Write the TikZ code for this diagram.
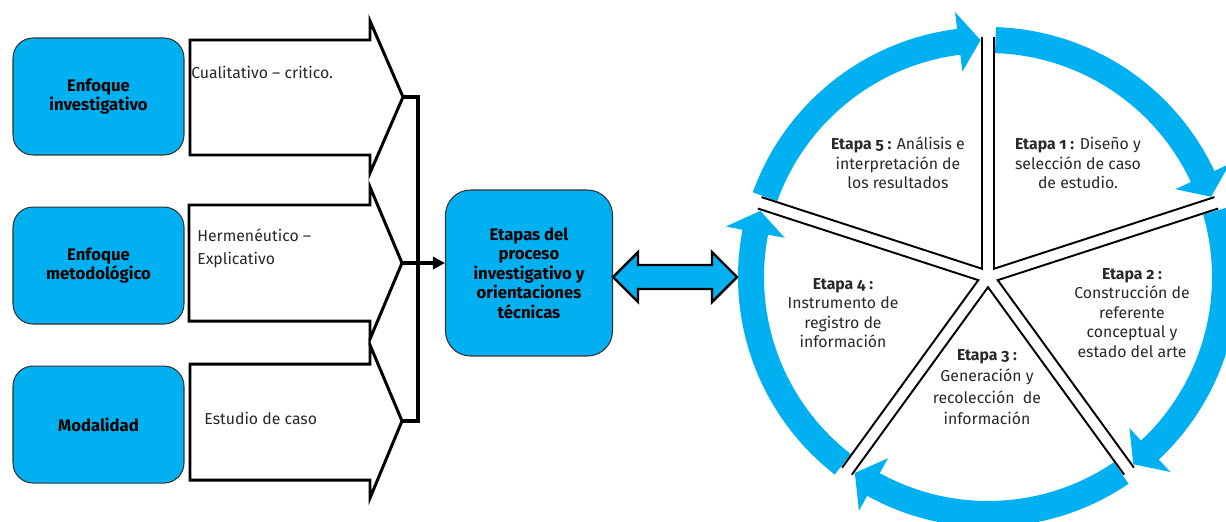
\documentclass[tikz,border=0pt]{standalone}
\usepackage{fontspec}
\setmainfont{Fira Sans}[Numbers=OldStyle]
\usetikzlibrary{positioning,calc,arrows.meta}
\definecolor{cyanblue}{RGB}{0,176,240}
\definecolor{textgray}{RGB}{40,40,40}

\begin{document}
\begin{tikzpicture}[x=0.02cm, y=0.02cm,
   every node/.style={font=\fontsize{9}{11.1}\selectfont, text=textgray},
   labelbox/.style={draw=black!80, line width=0.6pt, fill=cyanblue, rounded corners=0.4cm,
                    minimum width=3.42cm, minimum height=2.34cm, align=center,
                    font=\fontsize{9.5}{11.1}\selectfont\bfseries, text=black},
   bigarrow/.style={draw=black, line width=1.7pt, fill=white},
   armtext/.style={anchor=west, inner sep=0pt, align=left},
   busline/.style={draw=black, line width=2.1pt},
   dblarrow/.style={draw=black, line width=1.4pt, fill=cyanblue},
   ring/.style={fill=cyanblue},
   spoke/.style={draw=black, line width=1.1pt},
   stage/.style={align=center}]

\useasboundingbox (0,0) rectangle (1226,-521);
\clip (0,0) rectangle (1226,-521);

% left column
\node[labelbox] (enfinv) at (98.5,-96.5) {Enfoque\\investigativo};
\node[labelbox, below=1.02cm of enfinv] (enfmet) {Enfoque\\metodológico};
\node[labelbox, below=0.82cm of enfmet] (modal) {Modalidad};

% block arrows
\draw[bigarrow] (190,-40) -- (370,-40) -- (370,-21) -- (403,-97) -- (370,-173) -- (370,-155) -- (190,-155) -- cycle;
\draw[bigarrow] (189,-205) -- (370,-205) -- (370,-187) -- (402,-263) -- (370,-339) -- (370,-321) -- (189,-321) -- cycle;
\draw[bigarrow] (190,-364) -- (370,-364) -- (370,-345) -- (402,-421) -- (370,-498) -- (370,-480) -- (190,-480) -- cycle;
\coordinate (tip1) at (403,-97);
\coordinate (tip2) at (402,-263);
\coordinate (tip3) at (402,-421);

\node[armtext] (cualit) at (191,-72) {Cualitativo -- critico.};
\node[armtext] (herme) at (197,-248) {Hermenéutico --\\[2pt]Explicativo};
\node[armtext] (estudio) at (204,-418) {Estudio de caso};

% centre
\node[labelbox, minimum width=3.34cm, minimum height=3.32cm, rounded corners=0.5cm] (etapas) at (529,-273)
     {Etapas del\\proceso\\investigativo y\\orientaciones\\técnicas};

\coordinate (bustop) at (418,-97);
\coordinate (busbot) at (418,-421);
\draw[busline] (tip1) -- (bustop) -- (busbot) -- (tip3);
\draw[busline, -{Triangle[length=0.24cm, width=0.24cm]}] (tip2) -- (tip2 -| etapas.west);

\draw[dblarrow] (613,-277) -- (638,-252) -- (638,-265) -- (712,-265) -- (712,-252) -- (737,-277)
     -- (712,-302) -- (712,-289) -- (638,-289) -- (638,-302) -- cycle;

% cycle
\begin{scope}[shift={(988,-277)}]
\fill[ring] (88.2:250) arc[start angle=88.2, end angle=25.1, radius=250] -- (25.1:267) -- (19.8:237)
     -- (25.1:207) -- (25.1:224) arc[start angle=25.1, end angle=88.2, radius=224] -- cycle;
\fill[ring] (16.2:250) arc[start angle=16.2, end angle=-46.9, radius=250] -- (-46.9:267) -- (-52.2:237)
     -- (-46.9:207) -- (-46.9:224) arc[start angle=-46.9, end angle=16.2, radius=224] -- cycle;
\fill[ring] (-55.8:250) arc[start angle=-55.8, end angle=-118.9, radius=250] -- (-118.9:267) -- (-124.2:237)
     -- (-118.9:207) -- (-118.9:224) arc[start angle=-118.9, end angle=-55.8, radius=224] -- cycle;
\fill[ring] (-127.8:250) arc[start angle=-127.8, end angle=-190.9, radius=250] -- (-190.9:267) -- (-196.2:237)
     -- (-190.9:207) -- (-190.9:224) arc[start angle=-190.9, end angle=-127.8, radius=224] -- cycle;
\fill[ring] (160.2:250) arc[start angle=160.2, end angle=97.1, radius=250] -- (97.1:267) -- (91.8:237)
     -- (97.1:207) -- (97.1:224) arc[start angle=97.1, end angle=160.2, radius=224] -- cycle;

\draw[spoke] ($(90:240)+(0:6)$) -- (54:10.2) -- ($(18:240)+(108:6)$);
\draw[spoke] ($(18:240)+(-72:6)$) -- (-18:10.2) -- ($(-54:240)+(36:6)$);
\draw[spoke] ($(-54:240)+(-144:6)$) -- (-90:10.2) -- ($(-126:240)+(-36:6)$);
\draw[spoke] ($(-126:240)+(-216:6)$) -- (-162:10.2) -- ($(-198:240)+(-108:6)$);
\draw[spoke] ($(162:240)+(72:6)$) -- (126:10.2) -- ($(90:240)+(180:6)$);
\end{scope}

\node[stage] (etapa5) at (898,-163) {\textbf{Etapa 5 :} Análisis e\\interpretación de\\los resultados};
\node[stage] (etapa1) at (1078,-163) {\textbf{Etapa 1 :} Diseño y\\selección de caso\\de estudio.};
\node[stage] (etapa2) at (1132,-313) {\textbf{Etapa 2 :}\\Construcción de\\referente\\conceptual y\\estado del arte};
\node[stage] (etapa3) at (987,-387) {\textbf{Etapa 3 :}\\[1pt]Generación y\\[1pt]recolección~ de\\[1pt]información};
\node[stage] (etapa4) at (843,-313) {\textbf{Etapa 4 :}\\Instrumento de\\registro de\\información};

\end{tikzpicture}
\end{document}
